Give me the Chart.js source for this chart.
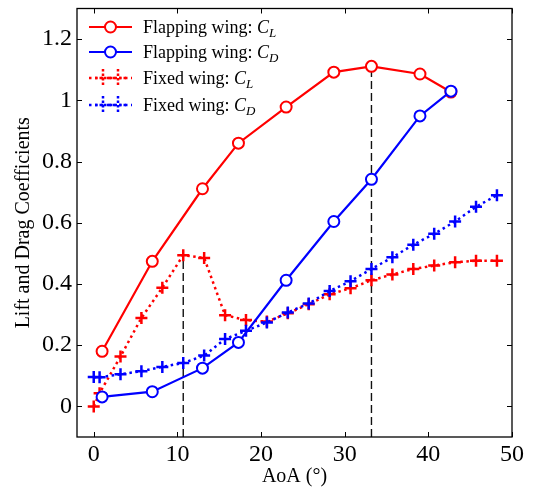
<!DOCTYPE html>
<html>
<head>
<meta charset="utf-8">
<script src="https://cdn.jsdelivr.net/npm/chart.js@4"></script>
<style>
  html,body{margin:0;padding:0;background:#fff;}
  #wrap{width:537px;height:491px;}
</style>
</head>
<body>
<div id="wrap"><canvas id="c" width="537" height="491"></canvas></div>
<script>
// flapping wing (circles, solid)
const flapAoA = [1, 7, 13, 17.3, 23, 28.7, 33.2, 39, 42.7];
const flapCL  = [0.180, 0.474, 0.711, 0.860, 0.978, 1.092, 1.111, 1.086, 1.027];
const flapCD  = [0.031, 0.048, 0.125, 0.209, 0.412, 0.604, 0.742, 0.949, 1.030];

// fixed wing (crosses, dotted)
const fixedAoA = [0, 0.7, 3.2, 5.7, 8.2, 10.7, 13.2, 15.7, 18.2, 20.7, 23.2, 25.7, 28.2, 30.7, 33.2, 35.7, 38.2, 40.7, 43.2, 45.7, 48.2];
const fixedCL  = [0.0, 0.043, 0.163, 0.289, 0.388, 0.494, 0.485, 0.298, 0.282, 0.277, 0.304, 0.334, 0.366, 0.386, 0.412, 0.431, 0.449, 0.460, 0.471, 0.476, 0.476];
const fixedCD  = [0.096, 0.095, 0.105, 0.115, 0.129, 0.142, 0.166, 0.220, 0.247, 0.274, 0.307, 0.336, 0.377, 0.409, 0.449, 0.487, 0.528, 0.564, 0.604, 0.652, 0.690];

// stall markers (dashed verticals)
const peakAoA  = [10.7, 33.2];
const peakCoef = [0.494, 1.111];

const xTicks = [0, 10, 20, 30, 40, 50];
const yTicks = [0, 0.2, 0.4, 0.6, 0.8, 1, 1.2];
const xRange = [-2, 50];
const yRange = [-0.1, 1.3];

const legendNames = ['Flapping wing: ', 'Flapping wing: ', 'Fixed wing: ', 'Fixed wing: '];
const legendSubs  = ['L', 'D', 'L', 'D'];

const SERIF = "'Liberation Serif', 'Times New Roman', Times, serif";
const RED = '#ff0000', BLUE = '#0000ff';

Chart.defaults.font.family = SERIF;
Chart.defaults.color = '#000';

function pts(xs, ys){ return xs.map((x,i)=>({x:x, y:ys[i]})); }

const datasets = [
  { label:'flapCL', data:pts(flapAoA, flapCL), borderColor:RED, borderWidth:2.2,
    pointStyle:'circle', pointRadius:5.5, pointBorderWidth:2, pointBackgroundColor:'#fff', pointBorderColor:RED, order:2 },
  { label:'flapCD', data:pts(flapAoA, flapCD), borderColor:BLUE, borderWidth:2.2,
    pointStyle:'circle', pointRadius:5.5, pointBorderWidth:2, pointBackgroundColor:'#fff', pointBorderColor:BLUE, order:1 },
  { label:'fixedCL', data:pts(fixedAoA, fixedCL), borderColor:RED, borderWidth:2.5, borderDash:[2.5,3.5],
    pointStyle:'cross', pointRadius:6, pointBorderWidth:2.5, pointBorderColor:RED, order:4 },
  { label:'fixedCD', data:pts(fixedAoA, fixedCD), borderColor:BLUE, borderWidth:2.5, borderDash:[2.5,3.5],
    pointStyle:'cross', pointRadius:6, pointBorderWidth:2.5, pointBorderColor:BLUE, order:3 }
];
peakAoA.forEach((a,i)=>{
  datasets.push({ label:'peak'+i, data:[{x:a, y:yRange[0]}, {x:a, y:peakCoef[i]}], borderColor:'#111',
    borderWidth:1.4, borderDash:[8,4], pointRadius:0, order:10 });
});

// box, inward ticks and legend
const frame = {
  id:'frame',
  afterDraw(chart){
    const ctx = chart.ctx, a = chart.chartArea;
    const xs = chart.scales.x, ys = chart.scales.y;
    ctx.save();
    ctx.strokeStyle = '#000'; ctx.lineWidth = 1.3; ctx.setLineDash([]);
    ctx.strokeRect(a.left, a.top, a.right-a.left, a.bottom-a.top);
    ctx.lineWidth = 1;
    const L = 5;
    ctx.beginPath();
    xTicks.forEach(v=>{
      const p = Math.round(xs.getPixelForValue(v))+0.5;
      ctx.moveTo(p, a.bottom); ctx.lineTo(p, a.bottom-L);
      ctx.moveTo(p, a.top); ctx.lineTo(p, a.top+L);
    });
    yTicks.forEach(v=>{
      const p = Math.round(ys.getPixelForValue(v))+0.5;
      ctx.moveTo(a.left, p); ctx.lineTo(a.left+L, p);
      ctx.moveTo(a.right, p); ctx.lineTo(a.right-L, p);
    });
    ctx.stroke();

    // legend
    const rows = [27, 52, 78, 105];
    const x0 = 89, x1 = 132, tx = 143;
    for(let i=0;i<4;i++){
      const ds = datasets[i], y = rows[i];
      const col = ds.borderColor;
      ctx.strokeStyle = col; ctx.lineWidth = ds.borderWidth;
      ctx.setLineDash(ds.borderDash || []);
      ctx.beginPath(); ctx.moveTo(x0, y); ctx.lineTo(x1, y); ctx.stroke();
      if(ds.pointStyle === 'circle'){
        ctx.setLineDash([]); ctx.lineWidth = 2;
        ctx.fillStyle = '#fff';
        ctx.beginPath(); ctx.arc((x0+x1)/2, y, 5.5, 0, Math.PI*2); ctx.fill(); ctx.stroke();
      } else {
        ctx.setLineDash([2.5,2]); ctx.lineWidth = 2.5;
        [103, 118].forEach(cx=>{
          ctx.beginPath();
          ctx.moveTo(cx-8, y); ctx.lineTo(cx+8, y);
          ctx.moveTo(cx, y-9); ctx.lineTo(cx, y+9);
          ctx.stroke();
        });
      }
      ctx.setLineDash([]);
      ctx.fillStyle = '#000'; ctx.textBaseline = 'alphabetic'; ctx.textAlign = 'left';
      ctx.font = '18px ' + SERIF;
      const base = y + 6;
      ctx.fillText(legendNames[i], tx, base);
      let w = ctx.measureText(legendNames[i]).width;
      ctx.font = 'italic 18px ' + SERIF;
      ctx.fillText('C', tx+w, base);
      w += ctx.measureText('C').width;
      ctx.font = 'italic 13px ' + SERIF;
      ctx.fillText(legendSubs[i], tx+w, base+4);
    }
    ctx.restore();
  }
};

new Chart(document.getElementById('c').getContext('2d'), {
  type:'scatter',
  data:{ datasets:datasets.map(d=>Object.assign({showLine:true, fill:false, tension:0}, d)) },
  options:{
    responsive:false, animation:false, devicePixelRatio:1,
    layout:{ padding:{ top:5, right:25, left:0, bottom:0 } },
    plugins:{ legend:{display:false}, tooltip:{enabled:false} },
    scales:{
      x:{ type:'linear', min:xRange[0], max:xRange[1],
        afterBuildTicks:s=>{ s.ticks = xTicks.map(v=>({value:v})); },
        afterFit:s=>{ s.height = 54; s.paddingLeft = 0; s.paddingRight = 0; },
        grid:{ display:false, drawTicks:false }, border:{ display:false },
        ticks:{ color:'#000', padding:3, maxRotation:0, font:{ family:SERIF, size:24 } },
        title:{ display:true, text:'AoA (°)', color:'#000', padding:{top:0,bottom:2}, font:{ family:SERIF, size:20 } } },
      y:{ type:'linear', min:yRange[0], max:yRange[1],
        afterBuildTicks:s=>{ s.ticks = yTicks.map(v=>({value:v})); },
        afterFit:s=>{ s.width = 77; s.paddingTop = 0; s.paddingBottom = 0; },
        grid:{ display:false, drawTicks:false }, border:{ display:false },
        ticks:{ color:'#000', padding:5, font:{ family:SERIF, size:24 },
          callback:v=>String(Math.round(v*10)/10) },
        title:{ display:true, text:'Lift and Drag Coefficients', color:'#000', padding:{top:12,bottom:0}, font:{ family:SERIF, size:20 } } }
    }
  },
  plugins:[frame]
});
</script>
</body>
</html>
